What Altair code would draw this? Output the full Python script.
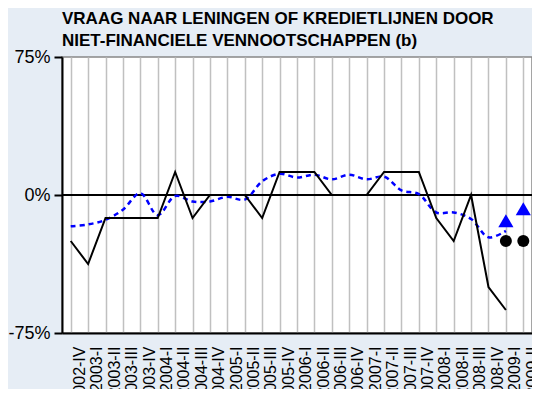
import altair as alt
import pandas as pd

categories = ["2002-IV", "2003-I", "2003-II", "2003-III", "2003-IV",
              "2004-I", "2004-II", "2004-III", "2004-IV",
              "2005-I", "2005-II", "2005-III", "2005-IV",
              "2006-I", "2006-II", "2006-III", "2006-IV",
              "2007-I", "2007-II", "2007-III", "2007-IV",
              "2008-I", "2008-II", "2008-III", "2008-IV",
              "2009-I", "2009-II"]

# realised (solid black), per quarter, up to 2009-I
realised = [-25, -37.5, -12.5, -12.5, -12.5, -12.5, 12.5, -12.5, 0, 0, 0, -12.5,
            12.5, 12.5, 12.5, 0, 0, 0, 12.5, 12.5, 12.5, -12.5, -25, 0, -50, -62.5]
# euro area (dashed blue), up to 2009-I
euro = [-17, -16, -13.5, -8, 1, -11, -0.5, -3.5, -3.5, -1, -2.5, 7.5, 11.5,
        9.5, 11, 8.5, 11, 8.5, 10, 2.5, 0.5, -9.5, -9.5, -13, -23, -19.5]
# expectations
exp_cats = ["2009-I", "2009-II"]
exp_realised = [-25, -25]
exp_euro = [-14, -7.5]

df_r = pd.DataFrame({"cat": categories[:len(realised)], "v": realised})
df_e = pd.DataFrame({"cat": categories[:len(euro)], "v": euro})
df_xr = pd.DataFrame({"cat": exp_cats, "v": exp_realised})
df_xe = pd.DataFrame({"cat": exp_cats, "v": exp_euro})

FONT = "Liberation Sans"
n = len(categories)
W = 470
step = W / n

xenc = alt.X("cat:N", sort=categories,
             scale=alt.Scale(domain=categories, paddingInner=0, paddingOuter=0),
             axis=alt.Axis(bandPosition=0, grid=True, gridColor="#c0c0c0", gridWidth=1.5,
                           ticks=False, tickSize=0, labelAngle=-90, labelOffset=step / 2,
                           labelFontSize=16, labelFont=FONT, labelColor="black",
                           labelPadding=13, labelOverlap=False,
                           domainColor="black", domainWidth=2, title=None))
yenc = alt.Y("v:Q", scale=alt.Scale(domain=[-75, 75], nice=False, zero=False),
             axis=alt.Axis(values=[-75, 0, 75], labelExpr="datum.value + '%'",
                           grid=False, domainColor="black", domainWidth=2,
                           tickColor="black", tickSize=8, tickWidth=2,
                           labelFontSize=18, labelFont=FONT, labelColor="black",
                           labelPadding=4, title=None))

base_r = alt.Chart(df_r)
grid_layer = base_r.mark_line(opacity=0).encode(x=xenc, y=yenc)
zero_rule = alt.Chart(df_r).mark_rule(color="black", strokeWidth=1).encode(y=alt.datum(0))
line_r = base_r.mark_line(color="black", strokeWidth=2).encode(x=xenc, y=yenc)
line_e = alt.Chart(df_e).mark_line(color="#0000ff", strokeWidth=2.5, strokeDash=[5, 4],
                                   interpolate="catmull-rom").encode(x=xenc, y=yenc)
tri = alt.Chart(df_xe).mark_point(shape="triangle-up", filled=True, size=230,
                                  color="#0000ff", opacity=1).encode(x=xenc, y=yenc)
dots = alt.Chart(df_xr).mark_circle(size=144, color="black", opacity=1).encode(x=xenc, y=yenc)

chart = alt.layer(grid_layer, zero_rule, line_e, line_r, tri, dots).properties(
    width=W, height=276,
    title=alt.TitleParams(["VRAAG NAAR LENINGEN OF KREDIETLIJNEN DOOR",
                           "NIET-FINANCIELE VENNOOTSCHAPPEN (b)"],
                          anchor="start", frame="group", fontSize=17, font=FONT,
                          fontWeight="bold", color="black", lineHeight=22, offset=-2),
    autosize=alt.AutoSizeParams(type="none"),
    padding={"left": 54, "top": 49, "right": 0, "bottom": 56},
).configure(background="#e6edf5").configure_view(fill="white", stroke="#888888", strokeWidth=1.5)

chart.save("out.html", embed_options={"renderer": "svg", "actions": False})
